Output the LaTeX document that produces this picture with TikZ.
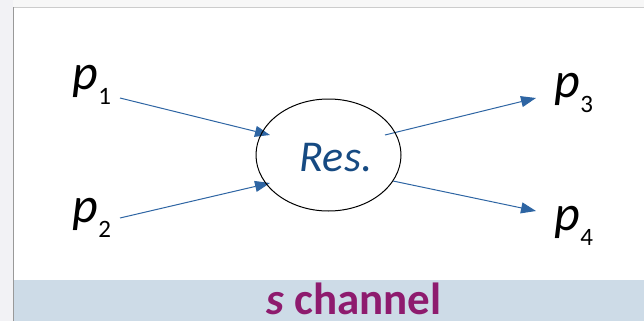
\documentclass[tikz,border=0pt]{standalone}
\usepackage{fontspec}
\setmainfont{Carlito}
\usetikzlibrary{arrows.meta,shapes.geometric}
\definecolor{arrowblue}{RGB}{46,101,163}
\definecolor{restext}{RGB}{22,74,130}
\definecolor{bandblue}{RGB}{205,219,231}
\definecolor{sidegray}{RGB}{242,242,245}
\definecolor{chanpurple}{RGB}{142,27,110}
% momentum label: italic p with a lowered index
\newcommand\plabel[1]{\fontsize{50}{52}\selectfont\itshape p\upshape\hspace{0.5pt}\raisebox{-15pt}{\fontsize{25}{28}\selectfont #1}}
\tikzset{
  mom/.style={anchor=base west, inner sep=0pt},
  conn/.style={draw=arrowblue, line width=1pt, -{Triangle[length=15pt,width=11pt]}},
}
\begin{document}
\begin{tikzpicture}[x=1pt,y=-1pt]
\useasboundingbox (0,0) rectangle (644,321);
% frame and caption band
\fill[black!3] (0,0) rectangle (644,7);
\fill[sidegray] (0,0) rectangle (13,321);
\fill[bandblue] (13,280) rectangle (644,321);
\draw[black!20, line width=1pt] (13,7.5) -- (644,7.5);
\draw[black!40, line width=1pt] (13,7.5) -- (13,321);
\node[anchor=base, inner sep=0pt, text=chanpurple] (cap) at (354,314)
  {\fontsize{45}{48}\selectfont\bfseries\itshape s\upshape{} channel};

% external momenta
\node[mom] (p1) at (72,89) {\plabel{1}};
\node[mom] (p2) at (72,222) {\plabel{2}};
\node[mom] (p3) at (554,97) {\plabel{3}};
\node[mom] (p4) at (554,230) {\plabel{4}};

% arrow end points
\coordinate (a1) at (120,98);
\coordinate (b1) at (270,135);
\coordinate (a2) at (120,218);
\coordinate (b2) at (270,183);
\coordinate (a3) at (385,135);
\coordinate (b3) at (536,98);
\coordinate (a4) at (393,181);
\coordinate (b4) at (536,211);

\draw[conn] (a1) -- (b1);
\draw[conn] (a2) -- (b2);
\draw[conn] (a3) -- (b3);
\draw[conn] (a4) -- (b4);

% resonance blob
\node[ellipse, draw=black, line width=1pt, minimum width=145pt, minimum height=112pt, inner sep=0pt] (res) at (328.5,155) {};
\node[inner sep=0pt, text=restext, anchor=base] (rlabel) at (336,171)
  {\fontsize{44}{46}\selectfont\itshape Res.};
\end{tikzpicture}
\end{document}
